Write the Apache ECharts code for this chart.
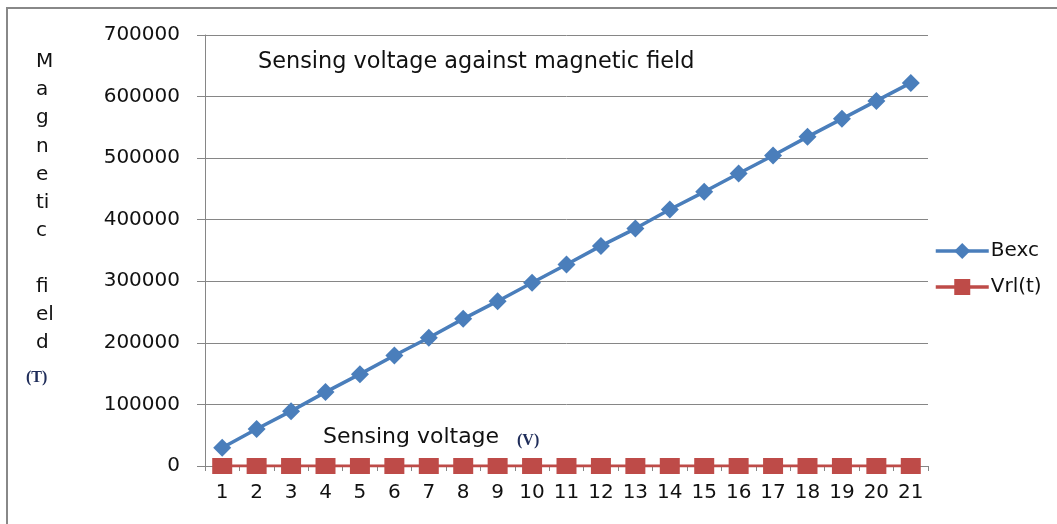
<!DOCTYPE html>
<html><head><meta charset="utf-8">
<script src="https://cdn.jsdelivr.net/npm/echarts@6/dist/echarts.min.js"></script>
<style>html,body{margin:0;padding:0;background:#fff}#c{width:1057px;height:524px}</style>
</head><body><div id="c"></div>
<script>
const categories = ['1','2','3','4','5','6','7','8','9','10','11','12','13','14','15','16','17','18','19','20','21'];
const bexc = [29700, 60000, 89100, 120000, 149200, 179500, 208300, 239000, 267700, 297500, 327300, 357500, 385600, 416600, 445300, 475000, 504200, 534600, 563800, 593000, 622200];
const vrl = [0,0,0,0,0,0,0,0,0,0,0,0,0,0,0,0,0,0,0,0,0];
const yTicks = { min: 0, max: 700000, interval: 100000 };
const yNameLines = ['M','a','g','n','e','ti','c','','fi','el','d'];

const FONT = 'DejaVu Sans';
const chart = echarts.init(document.getElementById('c'));
const nameGraphics = yNameLines.map((t, i) => ({
  type: 'text', x: 36, y: 62 + i * 28.1,
  style: { text: t, font: '20px "DejaVu Sans"', fill: '#111', verticalAlign: 'middle' }
}));
chart.setOption({
  animation: false,
  backgroundColor: '#fff',
  grid: { left: 205, right: 129, top: 35, bottom: 58 },
  legend: {
    orient: 'vertical', left: 929, top: 236, itemGap: 16,
    itemWidth: 53, itemHeight: 20,
    lineStyle: { width: 3.5 },
    textStyle: { fontFamily: FONT, fontSize: 20, color: '#111', padding: [0,0,0,-3] },
    data: ['Bexc', 'Vrl(t)']
  },
  xAxis: {
    type: 'category', data: categories, boundaryGap: true,
    axisLine: { lineStyle: { color: '#868686', width: 1 } },
    axisTick: { show: true, length: 5, lineStyle: { color: '#868686' } },
    axisLabel: { fontFamily: FONT, fontSize: 20, color: '#111', margin: 17 },
    splitLine: { show: false }
  },
  yAxis: {
    type: 'value', min: yTicks.min, max: yTicks.max, interval: yTicks.interval,
    axisLine: { show: true, lineStyle: { color: '#868686', width: 1 } },
    axisTick: { show: true, length: 8, lineStyle: { color: '#868686' } },
    axisLabel: { fontFamily: FONT, fontSize: 20, color: '#111', margin: 25,
      formatter: v => String(v) },
    splitLine: { lineStyle: { color: '#868686', width: 1 } }
  },
  series: [
    {
      name: 'Bexc', type: 'line', data: bexc,
      symbol: 'diamond', symbolSize: 18, z: 3,
      lineStyle: { color: '#4A7EBB', width: 3.5 },
      itemStyle: { color: '#4A7EBB' }
    },
    {
      name: 'Vrl(t)', type: 'line', data: vrl,
      symbol: 'rect', symbolSize: [20, 16], z: 4,
      lineStyle: { color: '#BE4B48', width: 3 },
      itemStyle: { color: '#BE4B48' }
    }
  ],
  graphic: [
    { type: 'rect', shape: { x: 7, y: 8, width: 2000, height: 1000 },
      style: { fill: 'none', stroke: '#888', lineWidth: 2 }, silent: true, z: 100 },
    { type: 'text', x: 258, y: 62,
      style: { text: 'Sensing voltage against magnetic field', font: '22.4px "DejaVu Sans"', fill: '#111', verticalAlign: 'middle' } },
    { type: 'text', x: 323, y: 437,
      style: { text: 'Sensing voltage', font: '22px "DejaVu Sans"', fill: '#111', verticalAlign: 'middle' } },
    { type: 'text', x: 517, y: 441,
      style: { text: '(V)', font: 'bold 16px "Liberation Serif"', fill: '#1f2d5a', verticalAlign: 'middle' } },
    { type: 'text', x: 26, y: 378,
      style: { text: '(T)', font: 'bold 16px "Liberation Serif"', fill: '#1f2d5a', verticalAlign: 'middle' } }
  ].concat(nameGraphics)
});
</script></body></html>
